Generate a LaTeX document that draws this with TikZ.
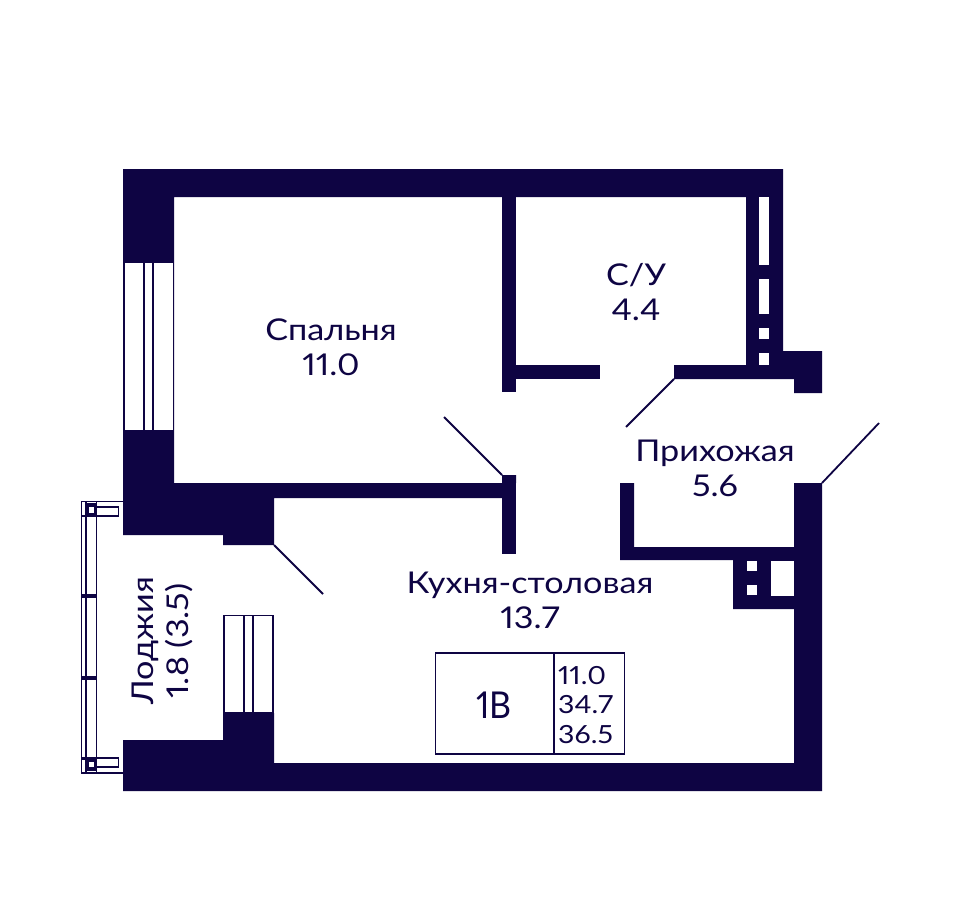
\documentclass[tikz,border=0pt]{standalone}
\usepackage{fontspec}
\setmainfont{Lato}[FakeStretch=1.14,Numbers=Proportional]
\newfontfamily\plainlato{Lato}[FakeStretch=0.92,Numbers=Proportional]
\definecolor{navy}{HTML}{0E0443}
\tikzset{
 wall/.style={fill=navy,draw=none},
 hole/.style={fill=white,draw=none},
 thin/.style={draw=navy,line width=1.3pt},
 door/.style={draw=navy,line width=1.8pt},
 lbl/.style={text=navy,font=\fontsize{30}{35}\selectfont,align=center,inner sep=0pt},
 boxln/.style={draw=navy,line width=1.2pt}
}
\begin{document}
\begin{tikzpicture}[x=1pt,y=-1pt]
\useasboundingbox[fill=white] (0,0) rectangle (960,900);
% outer shell
\path[wall] (123,169) -- (783,169) -- (783,351) -- (822,351) -- (822,393) -- (794,393) -- (794,379) -- (674,379) -- (674,365) -- (746,365) -- (746,197) -- (174,197) -- (174,483) -- (516,483) -- (516,475) -- (502,475) -- (502,498) -- (274,498) -- (274,545) -- (223,545) -- (223,535) -- (123,535) -- cycle;
% partitions
\path[wall] (502,197) rectangle (516,392);
\path[wall] (516,365) rectangle (600,379);
\path[wall] (502,475) rectangle (516,554);
% hall walls
\path[wall] (620,483) -- (634,483) -- (634,547) -- (794,547) -- (794,483) -- (822,483) -- (822,791) -- (123,791) -- (123,740) -- (223,740) -- (223,713) -- (274,713) -- (274,763) -- (794,763) -- (794,609) -- (733,609) -- (733,560) -- (620,560) -- cycle;
% slits
\path[hole] (759,197) rectangle (769,265);
\path[hole] (759,279) rectangle (769,314);
\path[hole] (759,328) rectangle (769,339);
\path[hole] (759,353) rectangle (769,365);
% shaft holes
\path[hole] (747,561) rectangle (757,571);
\path[hole] (747,585) rectangle (757,595);
\path[hole] (771,561) rectangle (794,596);
% upper window
\path[hole] (125,263) rectangle (172.5,430);
\draw[thin,line width=2.2pt] (144,263) -- (144,430);
\draw[thin,line width=2.2pt] (153,263) -- (153,430);
% lower window
\path[thin,fill=white] (224,615.5) rectangle (273,713);
\draw[thin,line width=2.2pt] (244,615) -- (244,713);
\draw[thin,line width=2.2pt] (253,615) -- (253,713);
% loggia rail
\draw[thin] (81.5,501.5) rectangle (96.5,773);
\draw[thin] (86,502) -- (86,772);
\draw[thin] (81.5,501.5) -- (123,501.5);
\draw[thin] (81.5,773) -- (123,773);
\draw[thin] (96.5,507) -- (118.5,507) -- (118.5,516) -- (96.5,516);
\draw[thin] (96.5,767) -- (118.5,767) -- (118.5,758) -- (96.5,758);
\path[wall] (81,594) rectangle (97,598);
\path[wall] (81,676) rectangle (97,680);
\path[wall] (81,514.5) rectangle (97,517);
\path[wall] (81,757) rectangle (97,759.5);
\path[wall] (86,503) rectangle (96,516);
\path[wall] (86,758) rectangle (96,771);
\path[hole] (88.5,507) rectangle (93.5,512.5);
\path[hole] (88.5,761.5) rectangle (93.5,767);
% doors
\coordinate (d1a) at (444,417); \coordinate (d1b) at (502,475);
\coordinate (d2a) at (674,379); \coordinate (d2b) at (626,427);
\coordinate (d3a) at (822,483); \coordinate (d3b) at (879,423);
\coordinate (d4a) at (274,545); \coordinate (d4b) at (323,594);
\draw[door] (d1a) -- (d1b);
\draw[door] (d2a) -- (d2b);
\draw[door] (d3a) -- (d3b);
\draw[door] (d4a) -- (d4b);
% labels
\node[lbl] (bed) at (331,347) {Спальня\\11.0};
\node[lbl] (wc) at (636,292) {С/У\\4.4};
\node[lbl] (hall) at (715,468) {Прихожая\\5.6};
\node[lbl] (kit) at (530,600) {Кухня-столовая\\13.7};
\node[lbl,rotate=90] (log) at (162,641) {Лоджия\\1.8 (3.5)};
% info box
\node[boxln,draw,minimum width=189pt,minimum height=101pt,inner sep=0pt] (info) at (530,703.5) {};
\coordinate (divt) at (554,653); \coordinate (divb) at (554,754);
\draw[boxln] (divt) -- (divb);
\node[lbl,font=\plainlato\fontsize{37}{40}\selectfont] (type) at (494,705) {1В};
\node[lbl,font=\fontsize{25}{29.5}\selectfont,align=left,anchor=west] (nums) at (558,705) {11.0\\34.7\\36.5};
\end{tikzpicture}
\end{document}
